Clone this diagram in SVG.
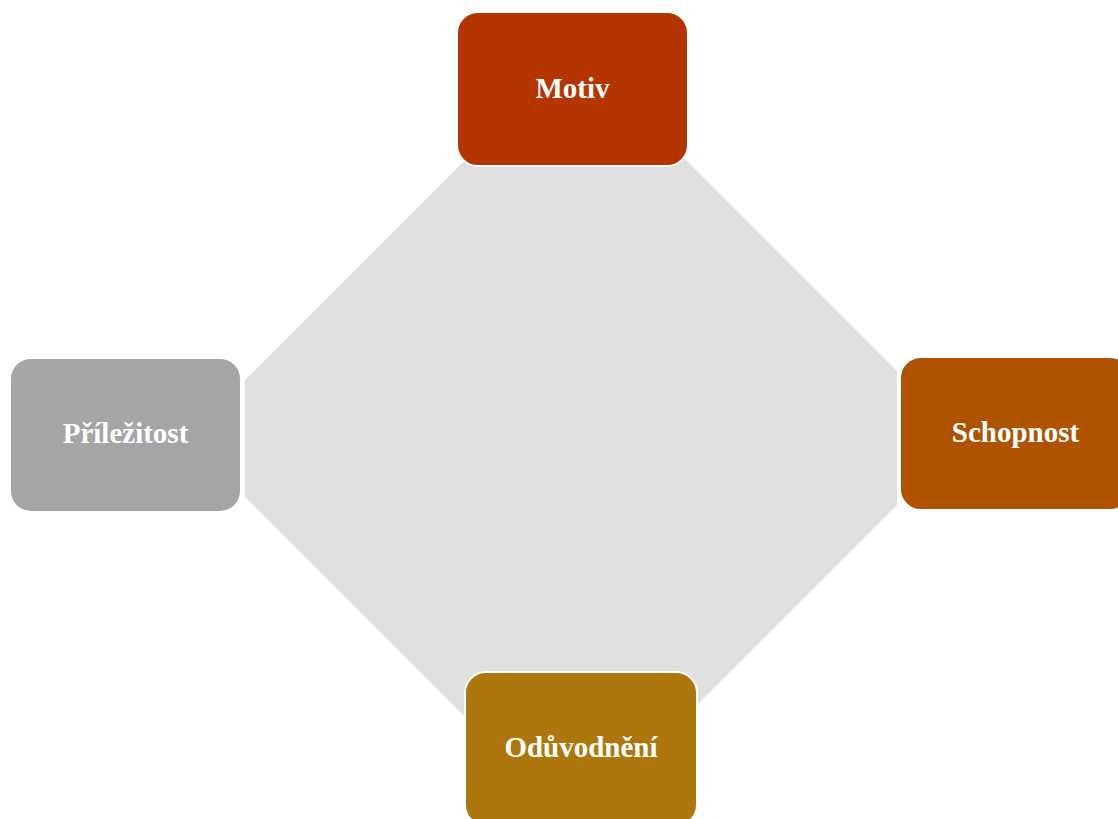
<svg xmlns="http://www.w3.org/2000/svg" width="1118" height="819" viewBox="0 0 1118 819">
  <style>
    .box { stroke: #FFFFFF; stroke-width: 2; }
    .label { font-family: "Liberation Serif", "Times New Roman", serif; font-weight: bold; font-size: 29px; fill: #FFFFFF; text-anchor: middle; }
  </style>
  <rect x="0" y="0" width="1118" height="819" fill="#FFFFFF"/>
  <g id="connectors">
    <polygon points="467,158 684,158 897,371 897,505 682,720 468,720 245,497 245,380" fill="#E0E0E0"/>
  </g>
  <g id="node-motiv">
    <rect class="box" x="457" y="12" width="231" height="154" rx="21" ry="21" fill="#B43500"/>
    <text class="label" x="572.5" y="98">Motiv</text>
  </g>
  <g id="node-schopnost">
    <rect class="box" x="900" y="357" width="231" height="153" rx="21" ry="21" fill="#B05300"/>
    <text class="label" x="1015.5" y="442">Schopnost</text>
  </g>
  <g id="node-oduvodneni">
    <rect class="box" x="465" y="672" width="232" height="154" rx="21" ry="21" fill="#AD770E"/>
    <text class="label" x="581" y="757">Odůvodnění</text>
  </g>
  <g id="node-prilezitost">
    <rect class="box" x="10" y="358" width="231" height="154" rx="21" ry="21" fill="#A5A5A5"/>
    <text class="label" x="125.5" y="443">Příležitost</text>
  </g>
</svg>
